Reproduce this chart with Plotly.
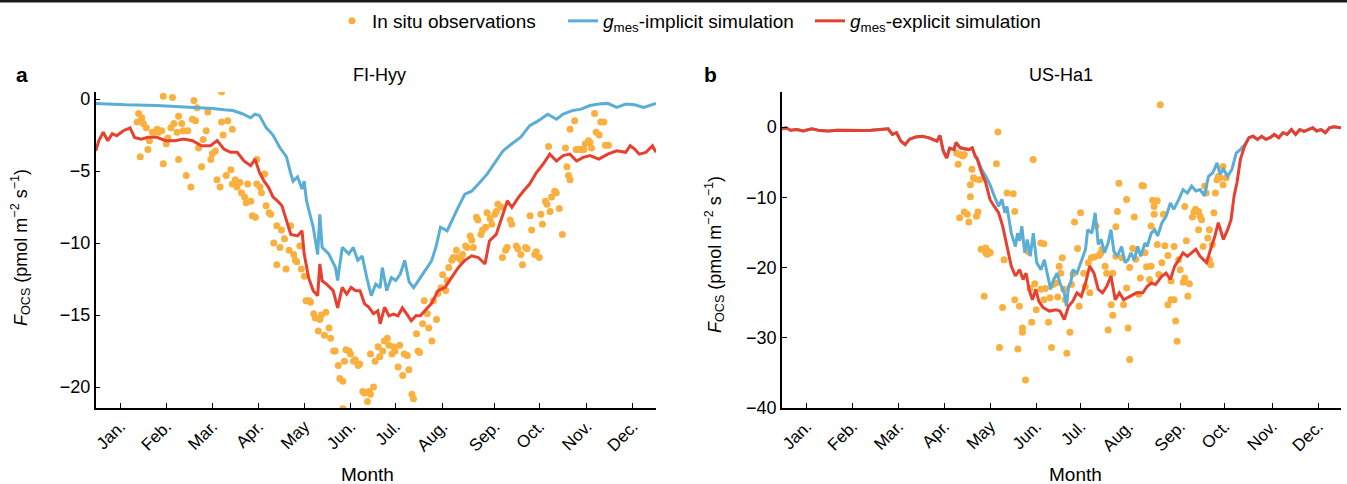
import plotly.graph_objects as go

# ---------------- Panel a: FI-Hyy ----------------
a_obs_day = [27,28,30,31,33,29,34,35,37,38,40,41,43,44,44,46,47,49,50,51,53,54,54,56,57,59,60,62,63,64,
             65,66,67,69,70,72,73,75,76,78,79,81,82,82,83,85,86,88,89,89,91,92,94,95,97,98,99,101,102,104,
             105,107,108,105,110,111,113,114,116,118,118,120,121,123,124,126,127,129,130,131,133,134,136,137,139,140,
             142,143,145,146,147,149,150,152,153,155,156,158,159,161,162,163,165,166,168,169,171,172,174,175,
             177,178,179,181,182,179,184,185,187,188,190,191,193,194,195,197,198,200,201,203,204,206,207,209,210,211,
             213,214,216,217,219,220,222,223,225,226,228,229,230,232,233,235,236,238,239,241,242,244,245,246,
             248,249,251,252,254,255,257,258,260,261,262,264,265,267,268,270,271,274,275,277,278,280,281,283,284,286,
             287,289,290,291,293,294,296,297,299,300,302,304,295,306,307,308,309,309,312,313,315,316,318,319,
             321,322,323,325,326,328,329,331,332,334,161]
a_obs_val = [-1.6,-1.0,-1.3,-1.7,-2.0,-4.0,-3.5,-2.9,-2.3,-2.3,-2.1,-2.3,-2.2,0.2,-4.5,-3.1,-2.7,-2.0,0.1,-1.7,
             -2.3,-1.2,-4.2,-1.7,-2.2,-5.3,-2.2,-6.1,-1.4,-0.1,-1.5,-0.6,-3.4,-4.7,-2.8,-2.2,-0.9,-4.2,-3.8,-3.6,
             -5.6,-6.1,0.5,-1.6,-2.5,-5.3,-1.5,-4.9,-2.1,-5.9,-5.6,-6.1,-5.8,-6.5,-6.8,-7.2,-5.9,-7.1,-8.1,-8.2,
             -5.9,-6.1,-6.5,-4.2,-5.2,-7.4,-7.9,-8.0,-10.0,-8.8,-11.5,-10.3,-9.1,-9.7,-11.8,-10.5,-8.8,-10.8,-11.2,-11.3,
             -10.2,-11.8,-12.3,-14.0,-14.0,-14.1,-14.9,-15.2,-16.1,-15.3,-15.0,-16.4,-14.8,-15.9,-16.6,-17.5,-17.5,-18.5,-19.4,-19.6,
             -18.2,-17.4,-17.5,-17.7,-18.2,-18.1,-18.5,-18.4,-20.3,-20.4,-21.0,-20.3,-20.5,-20.0,-18.2,-17.7,-17.2,-17.9,-17.5,-16.8,
             -16.6,-17.1,-17.7,-17.2,-17.5,-18.6,-17.1,-19.2,-17.7,-17.8,-18.8,-20.5,-20.8,-16.3,-17.5,-17.6,-15.6,-14.0,-14.9,-15.9,
             -16.8,-14.0,-15.3,-13.5,-13.1,-12.2,-13.3,-12.6,-11.7,-11.2,-11.0,-10.5,-11.0,-11.2,-10.8,-10.2,-10.3,-9.5,-9.8,-10.3,
             -8.2,-8.4,-9.4,-9.1,-8.9,-7.9,-8.3,-8.7,-8.0,-7.8,-7.3,-7.5,-11.0,-10.5,-10.3,-8.4,-8.7,-10.2,-10.4,-10.8,
             -11.5,-10.3,-10.4,-8.1,-9.1,-10.8,-10.6,-11.0,-8.0,-8.7,-7.1,-7.3,-7.8,-6.8,-6.4,-6.5,-7.6,-9.4,-3.3,-3.4,
             -4.7,-5.3,-5.6,-2.1,-1.5,-3.5,-3.5,-3.5,-3.5,-3.1,-2.9,-3.0,-3.4,-1.0,-2.3,-2.5,-1.6,-1.6,-3.2,-3.2,-21.5]

a_impl_day = [0,19.5,39.8,60.2,76.2,83.5,89.3,95.1,100.9,103.8,106.7,111.1,115.5,119.8,124.2,127.1,128.6,131.5,134.4,135.8,
              137.3,141.7,144.6,146.0,147.5,151.8,156.2,157.6,160.6,164.9,167.8,170.7,173.6,176.6,179.5,182.4,185.3,186.7,189.6,192.6,
              195.5,198.4,201.3,204.2,207.1,211.5,215.8,218.7,221.6,224.6,228.9,231.8,236.2,240.5,244.9,249.3,255.1,259.5,265.3,271.1,
              276.9,282.7,288.5,294.4,300.2,304.5,310.4,316.2,322.0,327.8,333.6,339.4,345.3,351.1,356.9,365]
a_impl_val = [-0.3,-0.4,-0.45,-0.55,-0.65,-0.75,-0.8,-1.0,-1.3,-1.05,-1.15,-2.0,-2.5,-3.35,-4.0,-5.2,-5.7,-5.4,-6.25,-5.7,
              -7.05,-8.9,-10.8,-8.0,-10.3,-10.75,-11.7,-12.6,-10.3,-10.75,-10.3,-11.2,-10.9,-12.4,-13.65,-12.85,-13.1,-11.7,-13.3,-12.4,
              -12.6,-12.15,-11.2,-12.7,-13.1,-12.4,-11.7,-11.25,-10.3,-8.9,-9.15,-8.45,-7.5,-6.6,-6.4,-5.9,-5.2,-4.5,-3.6,-3.1,
              -2.65,-1.85,-1.5,-1.05,-1.4,-1.05,-0.8,-0.7,-0.45,-0.35,-0.3,-0.58,-0.35,-0.4,-0.58,-0.3]

a_expl_day = [0,2.0,4.9,7.9,10.8,13.7,18.0,22.4,25.3,29.7,34.0,39.8,45.7,51.5,57.3,63.1,68.9,74.8,79.1,83.5,
              87.8,92.2,96.6,100.9,103.8,106.7,109.7,112.6,115.5,118.4,121.3,124.2,127.1,131.5,134.4,135.8,138.7,141.7,144.6,146.0,
              147.5,150.4,154.7,157.6,160.6,163.5,166.4,169.3,172.2,175.1,178.0,180.9,183.8,185.3,188.2,191.1,194.0,196.9,199.8,202.7,
              205.6,208.6,211.5,214.4,218.7,223.1,227.5,231.8,236.2,240.5,244.9,249.3,253.6,256.5,260.9,265.3,268.2,271.1,275.4,279.8,
              282.7,287.1,291.5,295.8,300.2,304.5,308.9,313.3,317.6,322.0,327.8,333.6,339.4,345.3,348.2,351.1,354.0,358.4,362.7,365]
a_expl_val = [-3.6,-2.9,-2.3,-2.9,-2.4,-2.55,-2.2,-2.0,-2.66,-2.78,-2.66,-2.66,-2.89,-2.89,-2.78,-2.89,-3.24,-3.24,-2.89,-3.47,
              -3.7,-3.7,-4.3,-4.63,-4.17,-5.1,-5.7,-6.13,-6.8,-7.06,-7.4,-8.45,-9.4,-9.5,-9.14,-10.75,-12.4,-13.3,-13.65,-11.45,
              -12.62,-12.85,-13.3,-14.5,-13.08,-13.54,-13.08,-13.31,-13.31,-14.2,-14.46,-14.9,-14.7,-15.6,-14.46,-15.05,-14.93,-15.05,-14.5,-14.93,
              -15.4,-15.05,-15.05,-14.7,-14.2,-13.3,-13.08,-12.4,-11.7,-11.2,-10.88,-11.0,-11.45,-9.85,-9.4,-8.0,-7.06,-7.52,-6.83,-6.25,
              -5.9,-5.1,-4.51,-3.82,-4.3,-3.93,-3.82,-4.3,-4.05,-3.93,-4.17,-3.82,-3.59,-3.7,-3.24,-3.47,-3.82,-3.7,-3.24,-3.7]

# ---------------- Panel b: US-Ha1 ----------------
b_obs_day = [114,116,118,115,119,116,119,121,122,123,123,124,125,126,127,128,129,130,132,133,
             133,134,134,135,136,140,141,142,144,145,147,151,152,152,154,155,157,157,159,161,
             162,163,164,165,166,169,169,171,171,172,174,175,176,177,179,180,181,182,183,184,
             185,186,188,189,190,191,193,194,195,197,198,200,201,202,204,205,207,208,209,211,
             212,213,215,216,216,218,218,219,220,222,223,225,225,226,227,227,229,230,231,233,
             234,235,236,237,238,240,241,241,242,243,243,245,245,246,247,248,249,250,252,252,
             254,254,256,256,257,258,259,260,262,263,263,264,265,266,268,269,270,272,272,273,
             274,275,276,277,278,279,279,280,281,282,283,284,285,286,288,288,290]
b_obs_val = [-3.7,-3.9,-4.1,-5.3,-3.9,-12.9,-12.1,-12.4,-13.5,-8.2,-9.9,-6.0,-7.2,-7.4,-12.7,-12.1,-7.5,-17.4,-24.1,-17.2,
             -17.9,-17.9,-18.1,-17.7,-17.9,-5.2,-0.7,-31.4,-25.7,-18.9,-9.4,-9.5,-12.0,-24.6,-31.6,-25.5,-28.6,-29.2,-36.0,-17.8,
             -23.0,-27.8,-4.6,-22.3,-26.0,-16.5,-23.1,-24.6,-16.6,-23.0,-27.8,-24.3,-31.4,-22.4,-22.2,-24.2,-19.8,-20.8,-18.6,-23.1,
             -24.6,-32.2,-29.2,-22.4,-20.9,-13.5,-17.3,-25.5,-12.2,-20.8,-22.7,-19.3,-23.6,-18.6,-18.5,-14.1,-18.3,-18.0,-17.4,-19.8,
             -20.8,-28.9,-25.3,-26.8,-20.8,-18.4,-14.2,-12.0,-8.0,-18.6,-25.3,-10.3,-22.9,-28.6,-33.1,-20.0,-17.3,-12.8,-18.8,-23.8,
             -21.5,-8.3,-8.4,-17.9,-19.9,-21.7,-19.8,-14.1,-10.4,-11.3,-12.4,-16.7,-10.5,-21.0,3.2,-19.3,-12.4,-16.9,-18.3,-25.3,
             -24.6,-21.9,-17.0,-24.6,-27.6,-30.5,-18.9,-20.3,-22.1,-21.5,-11.3,-16.2,-24.1,-22.3,-12.8,-12.1,-11.7,-12.0,-14.6,-12.7,
             -13.2,-17.0,-8.4,-9.4,-15.8,-18.9,-14.6,-19.6,-16.7,-12.2,-9.4,-7.5,-7.0,-7.2,-5.6,-8.2,-7.2]

# shared early-season section (both simulations coincide)
b_head_day = [0,2.8,5.5,9.7,13.9,19.4,24.9,30.5,36.0,41.6,47.1,52.7,58.2,63.7,69.3,72.1,74.8,77.6,80.4,83.1,
              87.3,91.5,95.6,98.4,101.2,103.1,105.3,107.5,109.5,112.3,113.6,116.4,119.7,122.0,124.2,126.1]
b_head_val = [-0.25,-0.1,-0.45,-0.35,-0.55,-0.25,-0.5,-0.55,-0.45,-0.5,-0.55,-0.5,-0.45,-0.35,-0.25,-1.05,-0.8,-2.0,-2.5,-1.75,
              -1.4,-1.3,-1.5,-1.75,-2.0,-1.2,-3.4,-4.4,-3.0,-3.2,-2.2,-2.95,-3.1,-3.2,-2.95,-4.1]

b_impl_day = [127.5,130.3,133.0,135.8,138.6,141.4,143.6,145.5,146.9,148.3,149.7,152.4,153.8,155.2,156.6,158.5,160.2,162.1,164.1,166.3,
              169.1,171.3,173.2,175.4,177.4,179.6,181.5,184.3,185.7,187.1,188.5,189.9,192.6,195.4,198.2,199.6,202.3,204.5,206.5,208.4,
              210.6,212.9,214.8,216.7,219.0,221.7,224.0,225.9,227.8,230.0,232.3,234.2,237.0,238.4,241.1,243.3,245.3,248.1,250.8,253.6,
              255.8,259.1,261.9,264.7,267.5,270.2,273.0,275.8,278.5,281.3,284.1,286.0,288.2,291.0,293.8,296.6,299.3,302.1]
b_impl_val = [-4.4,-6.0,-7.0,-8.2,-9.8,-11.3,-10.3,-12.2,-11.3,-13.6,-15.1,-17.0,-15.1,-16.2,-14.1,-17.9,-16.0,-18.4,-15.1,-19.3,
              -20.3,-18.9,-20.8,-23.1,-21.7,-20.8,-22.2,-23.6,-25.5,-22.7,-22.2,-20.3,-20.8,-19.1,-17.4,-14.6,-15.1,-12.2,-16.7,-16.0,
              -17.9,-16.5,-14.6,-17.7,-18.4,-17.0,-19.3,-18.9,-17.9,-18.9,-17.0,-18.4,-16.5,-17.0,-15.1,-14.6,-15.5,-13.6,-12.7,-10.8,
              -11.7,-10.3,-8.9,-9.4,-8.4,-9.1,-8.9,-9.8,-7.0,-6.5,-5.1,-6.7,-6.0,-7.0,-6.0,-3.7,-3.2,-2.5]

b_expl_day = [127.5,130.3,133.0,135.8,138.6,141.4,144.1,146.9,149.7,152.4,155.2,157.4,159.4,161.3,163.5,165.7,167.7,170.5,174.6,178.8,
              181.5,184.3,187.1,189.9,192.6,195.4,198.2,200.9,203.7,206.5,209.3,212.0,214.8,217.6,220.3,223.1,227.3,231.4,235.6,238.4,
              241.1,243.9,248.1,250.8,253.6,256.4,259.1,261.9,264.7,267.5,270.2,273.0,277.2,279.9,282.7,284.9,286.9,288.2,291.0,293.2,
              295.2,297.1,299.3,302.1]
b_expl_val = [-4.6,-6.5,-7.9,-10.3,-11.3,-12.2,-14.1,-17.0,-19.8,-21.2,-20.3,-21.7,-20.8,-23.1,-24.6,-23.1,-24.8,-25.7,-26.2,-26.0,
              -26.2,-27.4,-25.5,-24.8,-23.6,-24.1,-22.2,-19.8,-20.8,-23.1,-23.6,-22.7,-21.2,-24.6,-23.6,-24.6,-24.1,-23.6,-23.6,-22.7,
              -22.2,-22.4,-21.2,-20.8,-21.7,-19.8,-18.9,-17.9,-18.4,-17.9,-17.4,-18.4,-19.3,-17.4,-15.5,-13.6,-15.1,-16.0,-14.6,-13.2,
              -9.8,-7.9,-4.6,-2.7]

# shared late-season section
b_tail_day = [304.9,307.6,310.4,313.2,316.0,318.7,321.5,324.3,327.1,329.8,332.6,335.4,338.1,340.9,343.7,346.5,349.2,352.0,354.8,357.5,360.3,365]
b_tail_val = [-1.5,-1.3,-1.75,-1.3,-1.75,-1.5,-1.05,-1.5,-0.8,-1.05,-0.35,-1.05,-0.35,-0.6,-0.35,-0.1,-0.55,-0.35,-0.8,-0.1,0.05,-0.1]

month_labels = ["Jan.", "Feb.", "Mar.", "Apr.", "May", "Jun.", "Jul.", "Aug.", "Sep.", "Oct.", "Nov.", "Dec."]
month_tick_days = [16, 46, 76, 106, 136, 166, 195, 226, 260, 289, 320, 350]

a_yticks = [0, -5, -10, -15, -20]
b_yticks = [0, -10, -20, -30, -40]

ORANGE = "#F9B03F"
BLUE = "#5AAED6"
RED = "#E8402F"
FONT = "Liberation Sans, Arial, sans-serif"
TICKFONT = "Liberation Sans Narrow, Arial Narrow, Liberation Sans, Arial, sans-serif"

fig = go.Figure()

# panel a
fig.add_trace(go.Scatter(x=a_obs_day, y=a_obs_val, mode="markers", name="In situ observations",
                         marker=dict(color=ORANGE, size=7), xaxis="x", yaxis="y", legendgroup="obs",
                         legendwidth=186))
fig.add_trace(go.Scatter(x=a_impl_day, y=a_impl_val, mode="lines",
                         name="<i>g</i><sub>mes</sub>-implicit simulation",
                         line=dict(color=BLUE, width=3), xaxis="x", yaxis="y", legendgroup="impl",
                         legendwidth=202))
fig.add_trace(go.Scatter(x=a_expl_day, y=a_expl_val, mode="lines",
                         name="<i>g</i><sub>mes</sub>-explicit simulation",
                         line=dict(color=RED, width=3), xaxis="x", yaxis="y", legendgroup="expl",
                         legendwidth=200))

# panel b
fig.add_trace(go.Scatter(x=b_obs_day, y=b_obs_val, mode="markers", showlegend=False,
                         marker=dict(color=ORANGE, size=7), xaxis="x2", yaxis="y2", legendgroup="obs"))
fig.add_trace(go.Scatter(x=b_head_day + b_impl_day + b_tail_day, y=b_head_val + b_impl_val + b_tail_val,
                         mode="lines", showlegend=False,
                         line=dict(color=BLUE, width=3), xaxis="x2", yaxis="y2", legendgroup="impl"))
fig.add_trace(go.Scatter(x=b_head_day + b_expl_day + b_tail_day, y=b_head_val + b_expl_val + b_tail_val,
                         mode="lines", showlegend=False,
                         line=dict(color=RED, width=3), xaxis="x2", yaxis="y2", legendgroup="expl"))

W, H = 1347, 484

def px(x):
    return x / W

def py(y):
    return 1 - y / H

xcommon = dict(range=[0, 365], tickvals=month_tick_days, ticktext=month_labels, tickangle=-45,
               showline=True, linecolor="black", linewidth=1.5, ticks="inside", ticklen=5,
               tickwidth=1.2, tickcolor="black", showgrid=False, zeroline=False, automargin=False,
               tickfont=dict(family=TICKFONT, size=17, color="black"))
ycommon = dict(showline=True, linecolor="black", linewidth=1.5, ticks="inside", ticklen=5,
               tickwidth=1.2, tickcolor="black", showgrid=False, zeroline=False, automargin=False,
               tickfont=dict(family=TICKFONT, size=18, color="black"),
               domain=[py(408), py(92)])

xa = dict(xcommon); xa.update(domain=[px(95.7), px(656)], anchor="y")
xb = dict(xcommon); xb.update(domain=[px(782), px(1341)], anchor="y2")
ya = dict(ycommon); ya.update(range=[-21.45, 0.49], tickvals=a_yticks, anchor="x")
yb = dict(ycommon); yb.update(range=[-40, 5.0], tickvals=b_yticks, anchor="x2")

ytitle = "<i>F</i><sub>OCS</sub> (pmol m<sup>−2</sup> s<sup>−1</sup>)"

def ann(text, x, y, size, angle=0):
    return dict(text=text, x=px(x), y=py(y), xref="paper", yref="paper", showarrow=False,
                xanchor="center", yanchor="middle", textangle=angle,
                font=dict(family=FONT, size=size, color="black"))

annotations = [
    ann("<b>a</b>", 22, 75, 21),
    ann("<b>b</b>", 711, 75, 21),
    ann("FI-Hyy", 379, 75, 18),
    ann("US-Ha1", 1061, 75, 18),
    ann("Month", 367, 474, 19),
    ann("Month", 1075, 474, 19),
    ann(ytitle, 21, 248, 18, -90),
    ann(ytitle, 715, 255, 18, -90),
]

fig.update_layout(
    width=W, height=H, margin=dict(l=0, r=0, t=0, b=0),
    plot_bgcolor="white", paper_bgcolor="white",
    xaxis=xa, yaxis=ya, xaxis2=xb, yaxis2=yb,
    annotations=annotations,
    showlegend=True,
    legend=dict(orientation="h", x=px(332), xanchor="left", y=py(2), yanchor="top",
                font=dict(family=FONT, size=19, color="black"), bgcolor="rgba(0,0,0,0)",
                itemwidth=30, tracegroupgap=0),
    shapes=[dict(type="line", xref="paper", yref="paper", x0=0, x1=1, y0=py(1), y1=py(1),
                 line=dict(color="#1a1a1a", width=3))],
)

fig.write_html("out.html")
